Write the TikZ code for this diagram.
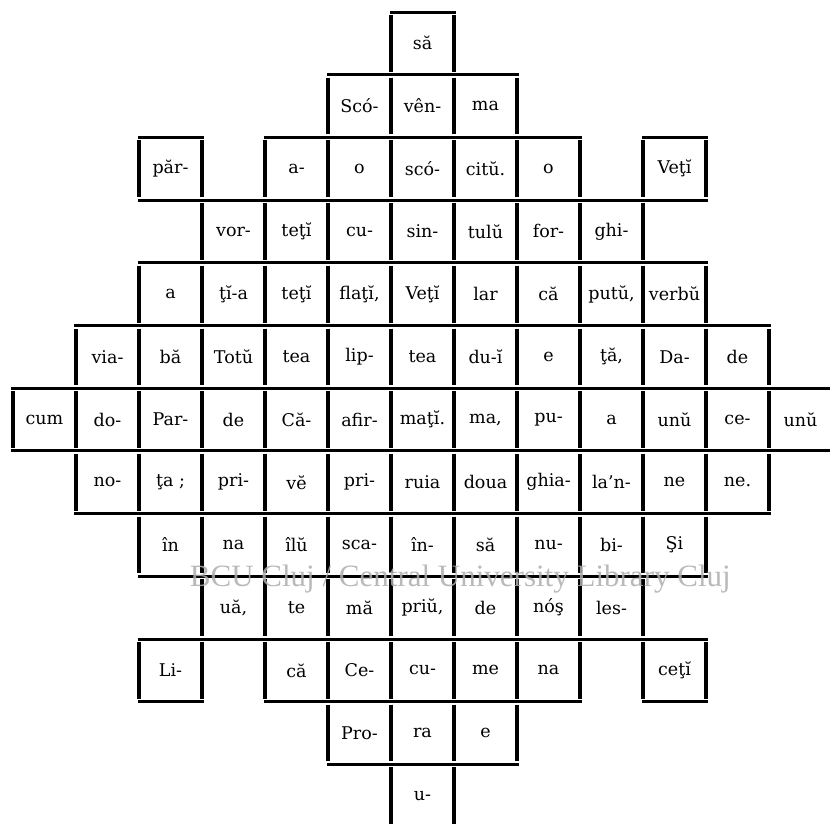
\documentclass[tikz,border=0pt]{standalone}
\usepackage{tikz}
\usepackage{fontspec}
\setmainfont{DejaVu Serif}

\begin{document}
\begin{tikzpicture}[x=63pt,y=-62.7pt,
	cell/.style={minimum width=63pt,minimum height=62.7pt,inner sep=0pt,outer sep=0pt,font=\fontsize{17.5}{17.5}\selectfont},
	hrule/.style={line width=3pt,line cap=rect},
	vrule/.style={line width=3.4pt,shorten <=3pt,shorten >=3pt}]
	\useasboundingbox (-0.2063,-0.1914) rectangle (12.968,12.967);
	% rows of the diamond: row / first column / words
	\foreach \r/\c/\words in {
		0/6/{să},
		1/5/{Scó-,vên-,ma},
		2/2/{păr-}, 2/4/{a-,o,scó-,citŭ.,o}, 2/10/{Veţĭ},
		3/3/{vor-,teţĭ,cu-,sin-,tulŭ,for-,ghi-},
		4/2/{a,ţĭ-a,teţĭ,{flaţĭ,},Veţĭ,lar,că,{putŭ,},verbŭ},
		5/1/{via-,bă,Totŭ,tea,lip-,tea,du-ĭ,e,{ţă,},Da-,de},
		6/0/{cum,do-,Par-,de,Că-,afir-,maţĭ.,{ma,},pu-,a,unŭ,ce-,unŭ},
		7/1/{no-,ţa ;,pri-,vĕ,pri-,ruia,doua,ghia-,la'n-,ne,ne.},
		8/2/{în,na,îlŭ,sca-,în-,să,nu-,bi-,Şi},
		9/3/{{uă,},te,mă,{priŭ,},de,nóş,les-},
		10/2/{Li-}, 10/4/{că,Ce-,cu-,me,na}, 10/10/{ceţĭ},
		11/5/{Pro-,ra,e},
		12/6/{u-}} {
		\foreach \w [count=\i from \c] in \words {
			\node[cell] (c\r-\i) at (\i+0.5,\r+0.5) {\raisebox{-3pt}{\w}};
			\draw[hrule] (c\r-\i.north west) -- (c\r-\i.north east);
			\draw[hrule] (c\r-\i.south west) -- (c\r-\i.south east);
			\draw[vrule] (c\r-\i.north west) -- (c\r-\i.south west);
			\draw[vrule] (c\r-\i.north east) -- (c\r-\i.south east);
		}
	}
	\node[text=black!32,opacity=0.85,font=\fontsize{31}{31}\selectfont] (wmark) at (7.1,9.05) {\fontspec{Liberation Serif}BCU Cluj / Central University Library Cluj};
\end{tikzpicture}
\end{document}
